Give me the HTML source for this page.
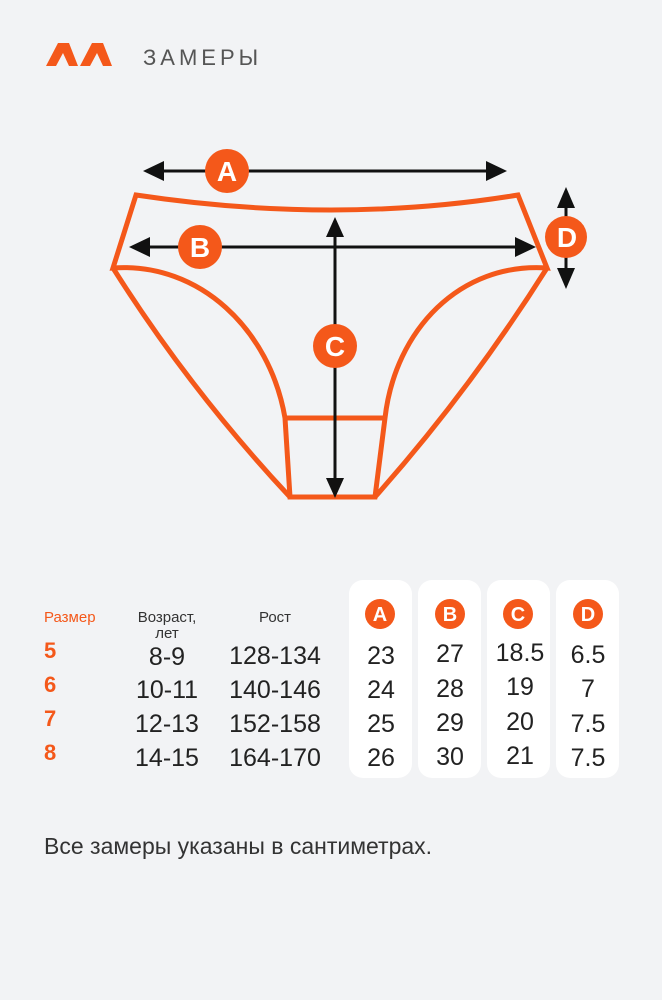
<!DOCTYPE html>
<html><head><meta charset="utf-8"><style>
body{margin:0;background:#f2f3f5;}
svg{display:block}
text{font-family:"Liberation Sans","DejaVu Sans",sans-serif}
</style></head><body>
<svg width="662" height="1000" viewBox="0 0 662 1000" xmlns="http://www.w3.org/2000/svg">
<rect width="662" height="1000" fill="#f2f3f5"/>
<path d="M46 66 L58 43 L69 43 L78 66 L69 66 L63 53 L56 66 Z" fill="#f4581a"/>
<path d="M80 66 L92 43 L103 43 L112 66 L103 66 L97 53 L90 66 Z" fill="#f4581a"/>
<text x="143" y="65" font-size="22" fill="#555" letter-spacing="4">ЗАМЕРЫ</text>
<g fill="none" stroke="#f4581a" stroke-width="5" stroke-linejoin="miter">
<path d="M136 195 Q335 225 518 195 L547 268 C460 262 395 330 385 418 L375 497 L290 497 L285 418 C270 330 200 262 113 268 Z"/>
<path d="M113 268 Q190 390 290 497"/>
<path d="M547 268 Q470 390 375 497"/>
<path d="M285 418 L385 418"/>
</g>
<g stroke="#111" stroke-width="3" fill="#111">
<line x1="155" y1="171" x2="495" y2="171"/>
<line x1="140" y1="247" x2="525" y2="247"/>
<line x1="335" y1="228" x2="335" y2="487"/>
<line x1="566" y1="198" x2="566" y2="278"/>
</g>
<g fill="#111">
<path d="M143 171 L164 161 L164 181 Z"/>
<path d="M507 171 L486 161 L486 181 Z"/>
<path d="M129 247 L150 237 L150 257 Z"/>
<path d="M536 247 L515 237 L515 257 Z"/>
<path d="M335 217 L326 237 L344 237 Z"/>
<path d="M335 498 L326 478 L344 478 Z"/>
<path d="M566 187 L557 208 L575 208 Z"/>
<path d="M566 289 L557 268 L575 268 Z"/>
</g>
<g fill="#f4581a">
<circle cx="227" cy="171" r="22"/><circle cx="200" cy="247" r="22"/>
<circle cx="335" cy="346" r="22"/><circle cx="566" cy="237" r="21"/>
</g>
<g fill="#fff" font-size="28" font-weight="bold" text-anchor="middle">
<text x="227" y="181">A</text><text x="200" y="257">B</text>
<text x="335" y="356">C</text><text x="567" y="247">D</text>
</g>
<g fill="#fff">
<rect x="349" y="580" width="63" height="198" rx="14"/>
<rect x="418" y="580" width="63" height="198" rx="14"/>
<rect x="487" y="580" width="63" height="198" rx="14"/>
<rect x="556" y="580" width="63" height="198" rx="14"/>
</g>
<g fill="#f4581a">
<circle cx="380" cy="614" r="15"/><circle cx="450" cy="614" r="15"/>
<circle cx="518" cy="614" r="15"/><circle cx="588" cy="614" r="15"/>
</g>
<g fill="#fff" font-size="20" font-weight="bold" text-anchor="middle">
<text x="380" y="621">A</text><text x="450" y="621">B</text><text x="518" y="621">C</text><text x="588" y="621">D</text>
</g>
<text x="44" y="622" font-size="15" fill="#f4581a">Размер</text>
<text x="167" y="622" font-size="15" fill="#333" text-anchor="middle">Возраст,</text>
<text x="167" y="638" font-size="15" fill="#333" text-anchor="middle">лет</text>
<text x="275" y="622" font-size="15" fill="#333" text-anchor="middle">Рост</text>
<g font-size="22" font-weight="bold" fill="#f4581a">
<text x="44" y="658">5</text><text x="44" y="692">6</text><text x="44" y="726">7</text><text x="44" y="760">8</text>
</g>
<g font-size="25" fill="#222" text-anchor="middle">
<text x="167" y="665">8-9</text><text x="167" y="698">10-11</text><text x="167" y="732">12-13</text><text x="167" y="766">14-15</text>
<text x="275" y="664">128-134</text><text x="275" y="698">140-146</text><text x="275" y="732">152-158</text><text x="275" y="766">164-170</text>
<text x="381" y="664">23</text><text x="381" y="698">24</text><text x="381" y="732">25</text><text x="381" y="766">26</text>
<text x="450" y="662">27</text><text x="450" y="697">28</text><text x="450" y="731">29</text><text x="450" y="765">30</text>
<text x="520" y="661">18.5</text><text x="520" y="695">19</text><text x="520" y="730">20</text><text x="520" y="764">21</text>
<text x="588" y="663">6.5</text><text x="588" y="697">7</text><text x="588" y="732">7.5</text><text x="588" y="766">7.5</text>
</g>
<text x="44" y="854" font-size="23" fill="#333">Все замеры указаны в сантиметрах.</text>
</svg>
</body></html>
